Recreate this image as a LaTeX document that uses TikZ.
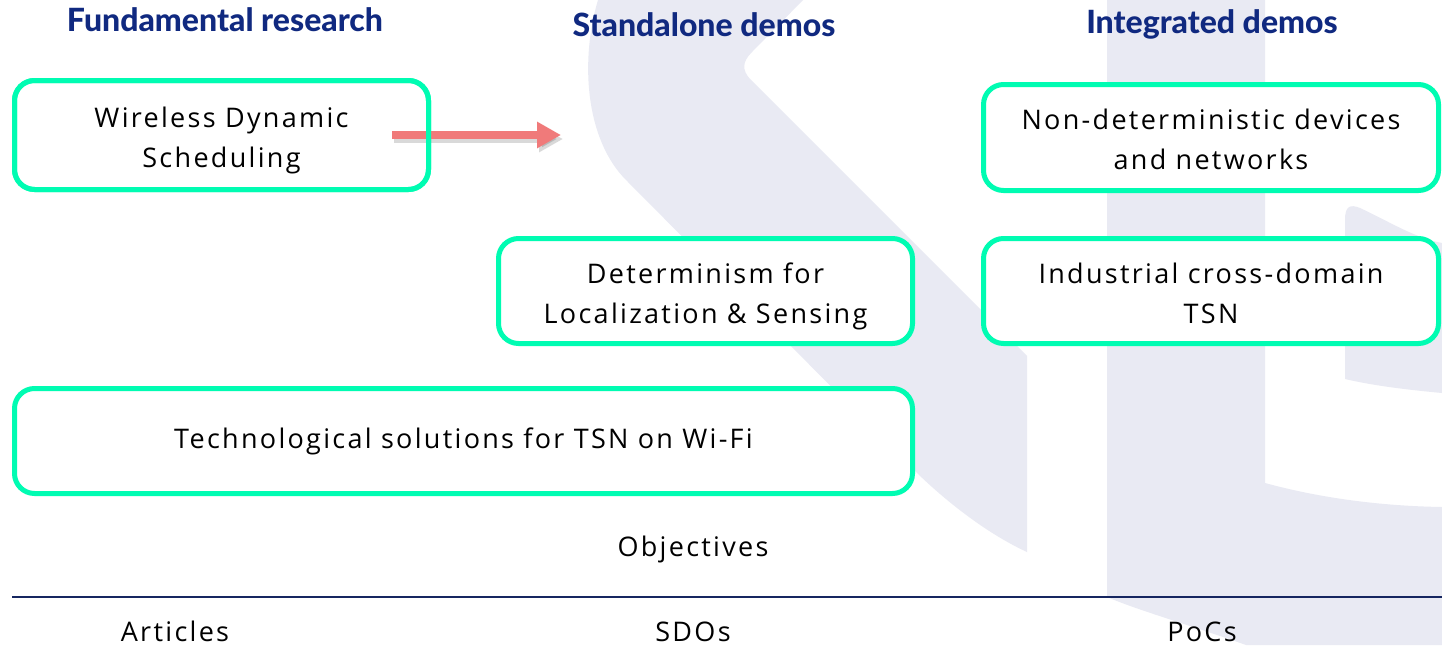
\documentclass[tikz,border=0pt]{standalone}
\usepackage{fontspec}
\setmainfont{Open Sans}[LetterSpace=8.5]
\IfFontExistsTF{Lato Heavy}
  {\newfontfamily\headfont{Lato Heavy}}
  {\newfontfamily\headfont{Lato}[UprightFont=*-Bold]}
\usetikzlibrary{arrows.meta}

\definecolor{navy}{RGB}{16,41,128}
\definecolor{rulenavy}{RGB}{22,38,96}
\definecolor{mint}{RGB}{0,252,178}
\definecolor{wmgray}{RGB}{233,234,243}
\definecolor{salmon}{RGB}{240,122,122}

% uniform line struts so every two-line box sits on the same baselines
\newcommand\ls{\rule[-8pt]{0pt}{40pt}}

\tikzset{
  box/.style={draw=mint, line width=5pt, rounded corners=20pt, fill=white,
    align=center, inner sep=0pt, outer sep=0pt,
    font=\fontsize{27}{40}\selectfont},
  boxframe/.style={draw=mint, line width=5pt, rounded corners=20pt},
  head/.style={font=\headfont\fontsize{32}{38}\selectfont,
    text=navy, anchor=base, inner sep=0pt},
  lbl/.style={font=\fontsize{27}{34}\selectfont, anchor=base, inner sep=0pt},
  logoshape/.style={fill=wmgray, draw=none},
  flow/.style={draw=salmon, line width=8pt,
    -{Triangle[length=24pt, width=25pt]}},
  flowshadow/.style={draw=black, opacity=0.15, line width=8pt,
    -{Triangle[length=24pt, width=25pt]}},
}

\begin{document}
\begin{tikzpicture}[x=1pt, y=-1pt]
  \useasboundingbox (0,0) rectangle (1442,645);
  \fill[white] (0,0) rectangle (1442,645);

  % watermark logo
  \path[logoshape] (598,0) .. controls (580,60) and (585,140) .. (627,181)
    -- (917,473) .. controls (950,505) and (990,535) .. (1027,552)
    -- (1027,356) -- (750,79) .. controls (742,70) and (742,62) .. (752,52)
    -- (803,0) -- cycle;
  \path[logoshape] (1107,0) -- (1265,0) -- (1265,483)
    .. controls (1320,498) and (1380,506) .. (1442,507)
    -- (1442,645) -- (1246,645)
    .. controls (1190,625) and (1140,611) .. (1107,597) -- cycle;
  \path[logoshape] (1345,220) .. controls (1345,206) and (1350,204) .. (1360,208)
    .. controls (1390,222) and (1415,238) .. (1442,243)
    -- (1442,393) .. controls (1410,390) and (1375,386) .. (1345,379) -- cycle;

  % column headings
  \node[head] (h1) at (225,31) {Fundamental research};
  \node[head] (h2) at (704,36) {Standalone demos};
  \node[head] (h3) at (1212,33) {Integrated demos};

  % objective boxes
  \node[box, minimum width=414, minimum height=109] (b1) at (221.5,135)
    {\ls Wireless Dynamic\\\ls Scheduling};
  \node[box, minimum width=414, minimum height=105] (b2) at (705.5,291)
    {\ls Determinism for\\\ls Localization \& Sensing};
  \node[box, minimum width=898, minimum height=105] (b3) at (463.5,441)
    {Technological solutions for TSN on Wi-Fi};
  \node[box, minimum width=455, minimum height=106] (b4) at (1211,137.5)
    {\ls Non-deterministic devices\\\ls and networks};
  \node[box, minimum width=455, minimum height=105] (b5) at (1211,291)
    {\ls Industrial cross-domain\\\ls TSN};

  % arrow out of the first box
  \coordinate (as) at (392,135);
  \coordinate (ae) at (561,135);
  \draw[flowshadow] ([shift={(2,4)}]as) -- ([shift={(2,4)}]ae);
  \draw[flow] (as) -- (ae);
  \draw[boxframe] (b1.south west) rectangle (b1.north east);

  % bottom rule and outputs
  \node[lbl] (obj) at (693,556) {Objectives};
  \coordinate (rl) at (12,597);
  \coordinate (rr) at (1442,597);
  \draw[rulenavy, line width=2pt] (rl) -- (rr);
  \node[lbl] (o1) at (175,641) {Articles};
  \node[lbl] (o2) at (693,641) {SDOs};
  \node[lbl] (o3) at (1202,641) {PoCs};
\end{tikzpicture}
\end{document}
